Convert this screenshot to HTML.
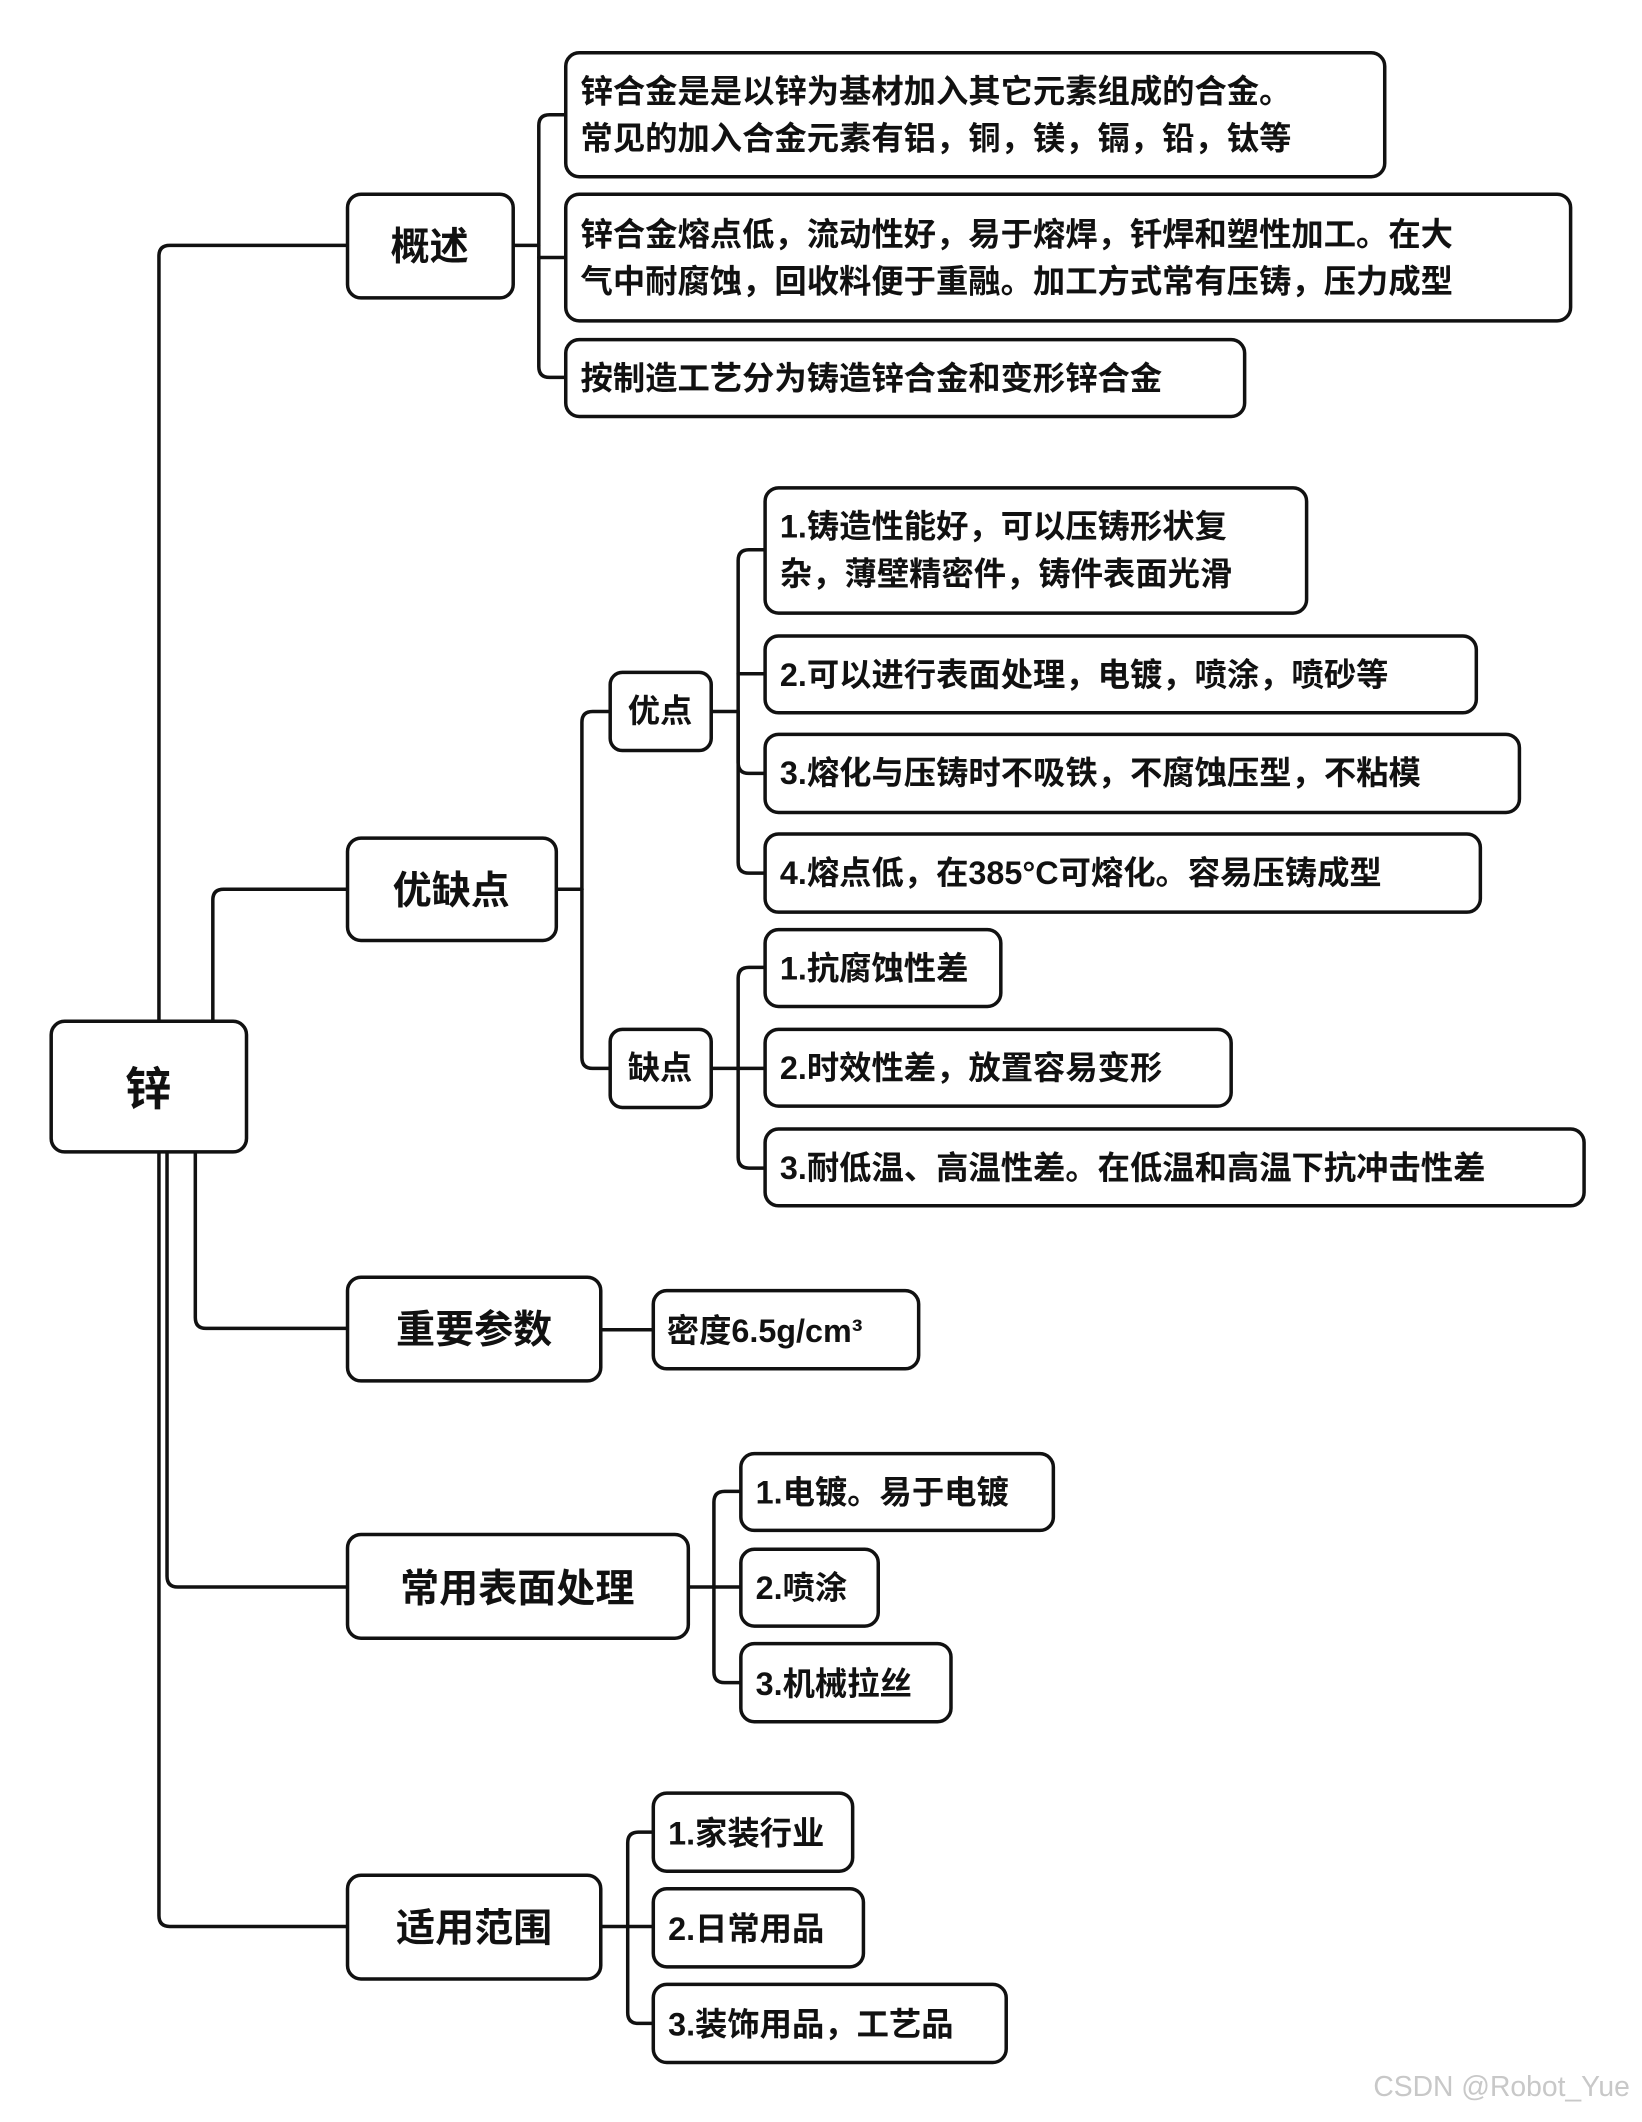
<!DOCTYPE html>
<html><head><meta charset="utf-8">
<style>
html,body{margin:0;padding:0;background:#fff;}
svg{display:block;}
text{font-family:"Liberation Sans","Noto Sans CJK SC",sans-serif;font-weight:bold;fill:#111;}
</style></head><body>
<svg width="1642" height="2122" viewBox="0 0 1219 1575" xmlns="http://www.w3.org/2000/svg">
<g fill="none" stroke="#111" stroke-width="2.6" stroke-linecap="round">
<!-- root connectors -->
<path d="M118 758 L118 190 Q118 182 126 182 L258 182"/>
<path d="M158 758 L158 668 Q158 660 166 660 L258 660"/>
<path d="M145 855 L145 978 Q145 986 153 986 L258 986"/>
<path d="M124 855 L124 1170 Q124 1178 132 1178 L258 1178"/>
<path d="M118 855 L118 1422 Q118 1430 126 1430 L258 1430"/>
<!-- 概述 -->
<path d="M381 182 L400 182"/>
<path d="M400 182 L400 93 Q400 85 408 85 L420 85"/>
<path d="M400 191 L420 191"/>
<path d="M400 182 L400 272 Q400 280 408 280 L420 280"/>
<!-- 优缺点 -->
<path d="M413 660 L432 660"/>
<path d="M432 660 L432 536 Q432 528 440 528 L453 528"/>
<path d="M432 660 L432 785 Q432 793 440 793 L453 793"/>
<!-- 优点 children -->
<path d="M528 528 L548 528"/>
<path d="M548 528 L548 416 Q548 408 556 408 L568 408"/>
<path d="M548 500 L568 500"/>
<path d="M548 528 L548 566 Q548 574 556 574 L568 574"/>
<path d="M548 528 L548 640 Q548 648 556 648 L568 648"/>
<!-- 缺点 children -->
<path d="M528 793 L548 793"/>
<path d="M548 793 L548 726 Q548 718 556 718 L568 718"/>
<path d="M548 793 L568 793"/>
<path d="M548 793 L548 859 Q548 867 556 867 L568 867"/>
<!-- 重要参数 -->
<path d="M446 987 L485 987"/>
<!-- 常用表面处理 -->
<path d="M511 1178 L530 1178"/>
<path d="M530 1178 L530 1115 Q530 1107 538 1107 L550 1107"/>
<path d="M530 1178 L550 1178"/>
<path d="M530 1178 L530 1241 Q530 1249 538 1249 L550 1249"/>
<!-- 适用范围 -->
<path d="M446 1430 L466 1430"/>
<path d="M466 1430 L466 1368 Q466 1360 474 1360 L485 1360"/>
<path d="M466 1430 L485 1430"/>
<path d="M466 1430 L466 1494 Q466 1502 474 1502 L485 1502"/>
</g>
<g fill="#fff" stroke="#111" stroke-width="2.6">
<rect x="38" y="758" width="145" height="97" rx="10"/>
<rect x="258" y="144" width="123" height="77" rx="10"/>
<rect x="258" y="622" width="155" height="76" rx="10"/>
<rect x="258" y="948" width="188" height="77" rx="10"/>
<rect x="258" y="1139" width="253" height="77" rx="10"/>
<rect x="258" y="1392" width="188" height="77" rx="10"/>
<rect x="420" y="39" width="608" height="92" rx="10"/>
<rect x="420" y="144" width="746" height="94" rx="10"/>
<rect x="420" y="252" width="504" height="57" rx="10"/>
<rect x="453" y="499" width="75" height="58" rx="9"/>
<rect x="453" y="764" width="75" height="58" rx="9"/>
<rect x="568" y="362" width="402" height="93" rx="10"/>
<rect x="568" y="472" width="528" height="57" rx="10"/>
<rect x="568" y="545" width="560" height="58" rx="10"/>
<rect x="568" y="619" width="531" height="58" rx="10"/>
<rect x="568" y="690" width="175" height="57" rx="10"/>
<rect x="568" y="764" width="346" height="57" rx="10"/>
<rect x="568" y="838" width="608" height="57" rx="10"/>
<rect x="485" y="958" width="197" height="58" rx="10"/>
<rect x="550" y="1079" width="232" height="57" rx="10"/>
<rect x="550" y="1150" width="102" height="57" rx="10"/>
<rect x="550" y="1220" width="156" height="58" rx="10"/>
<rect x="485" y="1331" width="148" height="58" rx="10"/>
<rect x="485" y="1402" width="156" height="58" rx="10"/>
<rect x="485" y="1473" width="262" height="58" rx="10"/>
</g>
<g font-size="24">
<text x="110" y="820" font-size="34" text-anchor="middle">锌</text>
<text x="319" y="193" font-size="29" text-anchor="middle">概述</text>
<text x="335" y="671" font-size="29" text-anchor="middle">优缺点</text>
<text x="352" y="997" font-size="29" text-anchor="middle">重要参数</text>
<text x="384" y="1189" font-size="29" text-anchor="middle">常用表面处理</text>
<text x="352" y="1441" font-size="29" text-anchor="middle">适用范围</text>
<text x="431" y="76">锌合金是是以锌为基材加入其它元素组成的合金。</text>
<text x="431" y="111">常见的加入合金元素有铝，铜，镁，镉，铅，钛等</text>
<text x="431" y="182">锌合金熔点低，流动性好，易于熔焊，钎焊和塑性加工。在大</text>
<text x="431" y="217">气中耐腐蚀，回收料便于重融。加工方式常有压铸，压力成型</text>
<text x="431" y="289">按制造工艺分为铸造锌合金和变形锌合金</text>
<text x="490" y="536" text-anchor="middle" x2="0">优点</text>
<text x="490" y="801" text-anchor="middle">缺点</text>
<text x="579" y="399">1.铸造性能好，可以压铸形状复</text>
<text x="579" y="434">杂，薄壁精密件，铸件表面光滑</text>
<text x="579" y="509">2.可以进行表面处理，电镀，喷涂，喷砂等</text>
<text x="579" y="582">3.熔化与压铸时不吸铁，不腐蚀压型，不粘模</text>
<text x="579" y="656">4.熔点低，在385°C可熔化。容易压铸成型</text>
<text x="579" y="727">1.抗腐蚀性差</text>
<text x="579" y="801">2.时效性差，放置容易变形</text>
<text x="579" y="875">3.耐低温、高温性差。在低温和高温下抗冲击性差</text>
<text x="495" y="996">密度6.5g/cm³</text>
<text x="561" y="1116">1.电镀。易于电镀</text>
<text x="561" y="1187">2.喷涂</text>
<text x="561" y="1258">3.机械拉丝</text>
<text x="496" y="1369">1.家装行业</text>
<text x="496" y="1440">2.日常用品</text>
<text x="496" y="1511">3.装饰用品，工艺品</text>
</g>
<text x="1210" y="1556" font-size="21" text-anchor="end" style="font-weight:normal;fill:#c8c8c8;">CSDN @Robot_Yue</text>
</svg>
</body></html>
